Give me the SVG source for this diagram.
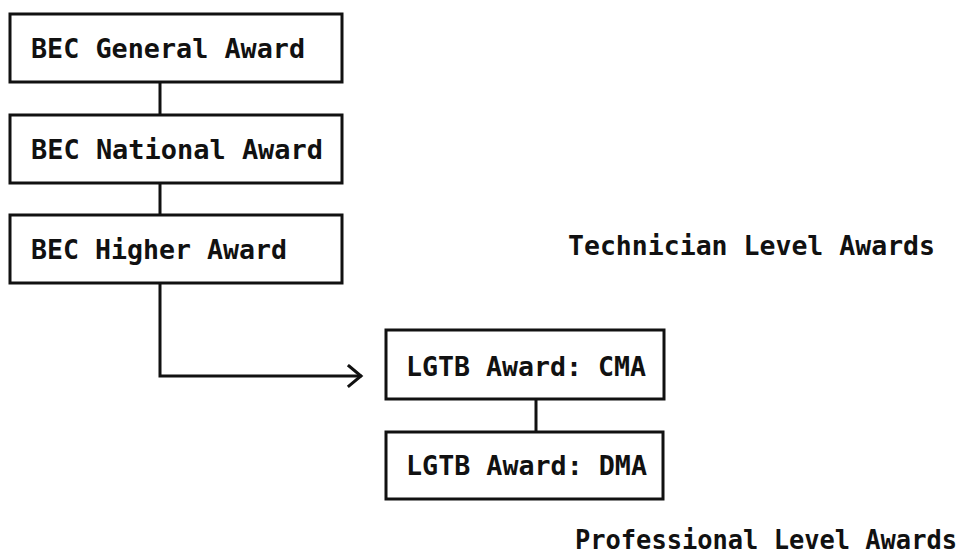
<svg xmlns="http://www.w3.org/2000/svg" width="970" height="558" viewBox="0 0 970 558">
<style>
.box{fill:#fff;stroke:#111;stroke-width:3}
.t{font-family:"DejaVu Sans Mono","Liberation Mono",monospace;font-weight:bold;font-size:27px;fill:#111}
.c{fill:none;stroke:#111;stroke-width:3;stroke-linecap:square}
</style>
<rect width="970" height="558" fill="#fff"/>
<g id="connectors">
<line class="c" x1="160" y1="82" x2="160" y2="115"/>
<line class="c" x1="160" y1="183" x2="160" y2="215"/>
<polyline class="c" points="160,283 160,376 360,376"/>
<polyline class="c" points="349,366 361,376 349,386" stroke-linejoin="miter"/>
<line class="c" x1="536" y1="399" x2="536" y2="432"/>
</g>
<g id="bec-general">
<rect class="box" x="10" y="14" width="332" height="68"/>
<text class="t" x="31" y="58" textLength="274" lengthAdjust="spacingAndGlyphs">BEC General Award</text>
</g>
<g id="bec-national">
<rect class="box" x="10" y="115" width="332" height="68"/>
<text class="t" x="31" y="159" textLength="292" lengthAdjust="spacingAndGlyphs">BEC National Award</text>
</g>
<g id="bec-higher">
<rect class="box" x="10" y="215" width="332" height="68"/>
<text class="t" x="31" y="259" textLength="256" lengthAdjust="spacingAndGlyphs">BEC Higher Award</text>
</g>
<g id="lgtb-cma">
<rect class="box" x="386" y="330" width="278" height="69"/>
<text class="t" x="406" y="376" textLength="240" lengthAdjust="spacingAndGlyphs">LGTB Award: CMA</text>
</g>
<g id="lgtb-dma">
<rect class="box" x="386" y="432" width="277" height="67"/>
<text class="t" x="406" y="475" textLength="241" lengthAdjust="spacingAndGlyphs">LGTB Award: DMA</text>
</g>
<g id="labels">
<text class="t" x="568" y="255" textLength="367" lengthAdjust="spacingAndGlyphs">Technician Level Awards</text>
<text class="t" x="575" y="549" style="font-size:26px" textLength="382" lengthAdjust="spacingAndGlyphs">Professional Level Awards</text>
</g>
</svg>
